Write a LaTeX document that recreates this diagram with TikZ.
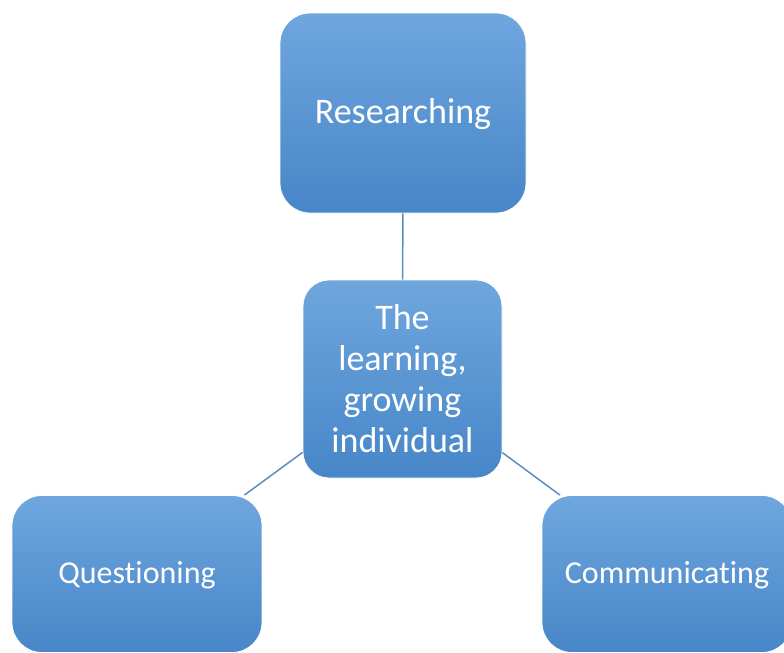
\documentclass[tikz,border=0pt]{standalone}
\usepackage{fontspec}
\setmainfont{Carlito}[Ligatures=NoCommon]
\usetikzlibrary{positioning}
\definecolor{btop}{HTML}{6FA6DE}
\definecolor{bbot}{HTML}{4786C8}
\definecolor{cline}{HTML}{5B8DC4}
\begin{document}
\begin{tikzpicture}[x=0.5pt, y=-0.5pt,
    every node/.style={font=\fontsize{18pt}{20.5pt}\selectfont, text=white, align=center},
    topicbox/.style={rounded corners=15pt, top color=btop, bottom color=bbot, draw=white, line width=0.4pt, text depth=2pt},
    smalltext/.style={font=\fontsize{16pt}{19pt}\selectfont},
    link/.style={cline, line width=0.75pt}]
      \useasboundingbox (0,0) rectangle (784,653);
      \clip (0,0) rectangle (784,653);
      \node[topicbox, minimum width=123pt, minimum height=100pt] (research) at (403,113) {Researching};
      \node[topicbox, rounded corners=13pt, minimum width=99.5pt, minimum height=99pt, text depth=] (self) at (402.5,379) {The\\learning,\\growing\\individual};
      \node[topicbox, smalltext, minimum width=125pt, minimum height=78.5pt] (question) at (137,574) {Questioning};
      \node[topicbox, smalltext, minimum width=125pt, minimum height=78.5pt] (communicate) at (667,574) {Communicating};
      \draw[link] (self) -- (research);
      \draw[link] (self) -- (question);
      \draw[link] (self) -- (communicate);
    \end{tikzpicture}
\end{document}
